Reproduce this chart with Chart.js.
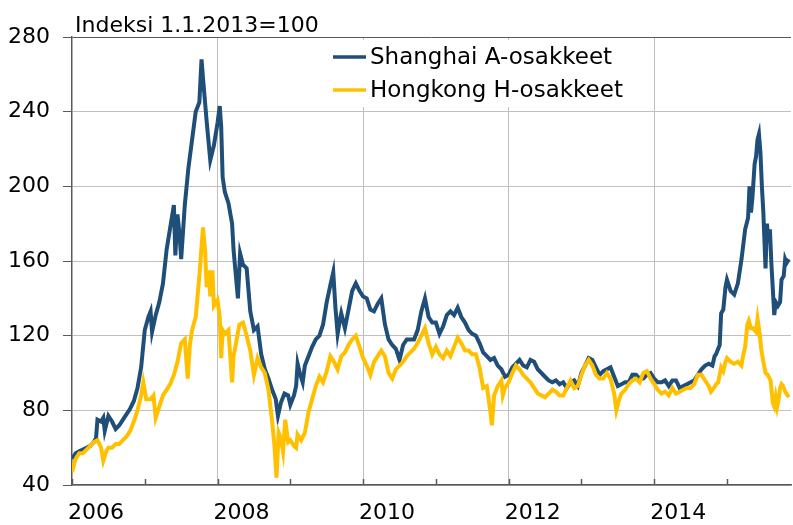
<!DOCTYPE html>
<html>
<head>
<meta charset="utf-8">
<script src="https://cdn.jsdelivr.net/npm/chart.js@4.4.1/dist/chart.umd.min.js"></script>
<style>
  body { margin: 0; background: #fff; }
</style>
</head>
<body>
<canvas id="chart" width="793" height="525"></canvas>
<script>
// Shanghai A-osakkeet (index 1.1.2013 = 100), decimal years
const shDates = [
  2006.00, 2006.05, 2006.10, 2006.15, 2006.20, 2006.25, 2006.30, 2006.33, 2006.35, 2006.40,
  2006.43, 2006.45, 2006.50, 2006.55, 2006.60, 2006.65, 2006.70, 2006.75, 2006.80, 2006.85,
  2006.90, 2006.95, 2007.00, 2007.05, 2007.08, 2007.10, 2007.15, 2007.20, 2007.25, 2007.30,
  2007.35, 2007.40, 2007.42, 2007.45, 2007.48, 2007.50, 2007.55, 2007.60, 2007.65, 2007.70,
  2007.75, 2007.78, 2007.80, 2007.85, 2007.90, 2007.95, 2008.00, 2008.03, 2008.05, 2008.07,
  2008.10, 2008.15, 2008.20, 2008.22, 2008.25, 2008.28, 2008.31, 2008.35, 2008.40, 2008.45,
  2008.50, 2008.55, 2008.60, 2008.65, 2008.70, 2008.75, 2008.80, 2008.83, 2008.87, 2008.92,
  2008.97, 2009.00, 2009.05, 2009.08, 2009.10, 2009.13, 2009.17, 2009.20, 2009.25, 2009.30,
  2009.35, 2009.40, 2009.45, 2009.50, 2009.55, 2009.59, 2009.62, 2009.65, 2009.68, 2009.70,
  2009.75, 2009.80, 2009.85, 2009.90, 2009.95, 2010.00, 2010.05, 2010.10, 2010.15, 2010.20,
  2010.25, 2010.30, 2010.35, 2010.40, 2010.45, 2010.50, 2010.55, 2010.60, 2010.65, 2010.70,
  2010.75, 2010.80, 2010.85, 2010.90, 2010.95, 2011.00, 2011.05, 2011.10, 2011.15, 2011.20,
  2011.25, 2011.30, 2011.35, 2011.40, 2011.45, 2011.50, 2011.55, 2011.60, 2011.65, 2011.70,
  2011.75, 2011.80, 2011.85, 2011.90, 2011.95, 2012.00, 2012.05, 2012.10, 2012.15, 2012.20,
  2012.25, 2012.30, 2012.35, 2012.40, 2012.45, 2012.50, 2012.55, 2012.60, 2012.65, 2012.70,
  2012.75, 2012.80, 2012.85, 2012.90, 2012.95, 2013.00, 2013.05, 2013.10, 2013.15, 2013.20,
  2013.25, 2013.30, 2013.35, 2013.40, 2013.45, 2013.50, 2013.55, 2013.60, 2013.65, 2013.70,
  2013.75, 2013.80, 2013.85, 2013.90, 2013.95, 2014.00, 2014.05, 2014.10, 2014.15, 2014.20,
  2014.25, 2014.30, 2014.35, 2014.40, 2014.45, 2014.50, 2014.55, 2014.60, 2014.65, 2014.70,
  2014.75, 2014.80, 2014.83, 2014.85, 2014.90, 2014.92, 2014.95, 2014.98, 2015.00, 2015.05,
  2015.10, 2015.15, 2015.20, 2015.25, 2015.29, 2015.31, 2015.33, 2015.35, 2015.38, 2015.40,
  2015.42, 2015.44, 2015.46, 2015.48, 2015.50, 2015.52, 2015.53, 2015.55, 2015.57, 2015.59,
  2015.61, 2015.63, 2015.65, 2015.67, 2015.70, 2015.73, 2015.75, 2015.78, 2015.80, 2015.82,
  2015.85
];
const shValues = [
  54, 57, 58, 59, 60, 61, 63, 65, 75, 74,
  76, 69, 77, 74, 70, 72, 75, 78, 81, 85,
  92, 103, 123, 130, 133, 122, 131, 138, 148, 166,
  178, 190, 163, 185, 173, 161, 190, 210, 225, 240,
  245, 268, 258, 235, 214, 222, 234, 243, 232, 205,
  197, 191, 180, 166, 153, 140, 164, 158, 156, 133,
  123, 125, 110, 102, 97, 91, 86, 77, 84, 89,
  88, 83, 88, 93, 105, 100, 95, 104, 109, 114,
  118, 120, 126, 138, 147, 154, 135, 121, 128, 132,
  124, 134, 144, 148, 144, 141, 140, 134, 133, 137,
  140, 126, 118, 115, 113, 107, 115, 118, 118, 118,
  123, 133, 140, 130, 127, 127, 121, 125, 131, 133,
  131, 135, 130, 127, 123, 121, 120, 116, 111, 109,
  107, 108, 104, 102, 98, 99, 103, 105, 107, 104,
  103, 107, 106, 102, 100, 98, 96, 95, 96, 94,
  95, 92, 95, 96, 93, 100, 104, 108, 107, 103,
  99, 101, 102, 103, 98, 93, 94, 95, 95, 99,
  99, 97, 97, 99, 100, 97, 95, 95, 96, 93,
  96, 96, 92, 93, 94, 95, 96, 99, 102, 104,
  105, 104, 109, 110, 115, 132, 134, 146, 150, 144,
  142, 148, 161, 177, 183, 200, 186, 194, 212, 216,
  225, 228, 218, 200, 186, 166, 156, 180, 170, 177,
  159, 145, 131, 138, 136, 138, 150, 152, 161, 159,
  161
];

// Hongkong H-osakkeet
const hkDates = [
  2006.00, 2006.05, 2006.10, 2006.15, 2006.20, 2006.25, 2006.30, 2006.35, 2006.40, 2006.43,
  2006.47, 2006.50, 2006.55, 2006.60, 2006.65, 2006.70, 2006.75, 2006.80, 2006.85, 2006.90,
  2006.95, 2006.98, 2007.02, 2007.08, 2007.12, 2007.15, 2007.20, 2007.25, 2007.30, 2007.35,
  2007.40, 2007.45, 2007.50, 2007.55, 2007.59, 2007.62, 2007.65, 2007.70, 2007.75, 2007.80,
  2007.83, 2007.85, 2007.88, 2007.90, 2007.93, 2007.95, 2008.00, 2008.03, 2008.05, 2008.07,
  2008.10, 2008.15, 2008.18, 2008.20, 2008.22, 2008.25, 2008.30, 2008.35, 2008.40, 2008.45,
  2008.50, 2008.55, 2008.60, 2008.65, 2008.70, 2008.75, 2008.78, 2008.81, 2008.84, 2008.87,
  2008.90, 2008.93, 2008.97, 2009.00, 2009.05, 2009.08, 2009.10, 2009.15, 2009.20, 2009.25,
  2009.30, 2009.35, 2009.40, 2009.45, 2009.50, 2009.55, 2009.60, 2009.65, 2009.70, 2009.75,
  2009.80, 2009.85, 2009.90, 2009.95, 2010.00, 2010.05, 2010.10, 2010.15, 2010.20, 2010.25,
  2010.30, 2010.35, 2010.40, 2010.45, 2010.50, 2010.55, 2010.60, 2010.65, 2010.70, 2010.75,
  2010.80, 2010.85, 2010.90, 2010.95, 2011.00, 2011.05, 2011.10, 2011.15, 2011.20, 2011.25,
  2011.30, 2011.35, 2011.40, 2011.45, 2011.50, 2011.55, 2011.60, 2011.65, 2011.70, 2011.75,
  2011.77, 2011.80, 2011.85, 2011.90, 2011.92, 2011.95, 2012.00, 2012.05, 2012.10, 2012.15,
  2012.20, 2012.25, 2012.30, 2012.35, 2012.40, 2012.45, 2012.50, 2012.55, 2012.60, 2012.65,
  2012.70, 2012.75, 2012.80, 2012.85, 2012.90, 2012.95, 2013.00, 2013.05, 2013.10, 2013.15,
  2013.20, 2013.25, 2013.30, 2013.35, 2013.40, 2013.45, 2013.48, 2013.52, 2013.55, 2013.60,
  2013.65, 2013.70, 2013.75, 2013.80, 2013.85, 2013.90, 2013.95, 2014.00, 2014.05, 2014.10,
  2014.15, 2014.20, 2014.25, 2014.30, 2014.35, 2014.40, 2014.45, 2014.50, 2014.55, 2014.60,
  2014.65, 2014.70, 2014.75, 2014.78, 2014.82, 2014.85, 2014.88, 2014.92, 2014.95, 2014.98,
  2015.00, 2015.05, 2015.10, 2015.15, 2015.20, 2015.22, 2015.25, 2015.28, 2015.30, 2015.33,
  2015.36, 2015.40, 2015.42, 2015.45, 2015.47, 2015.50, 2015.53, 2015.56, 2015.60, 2015.63,
  2015.65, 2015.67, 2015.69, 2015.71, 2015.73, 2015.75, 2015.77, 2015.80, 2015.85
];
const hkValues = [
  47, 54, 57, 57, 59, 61, 63, 64, 60, 53,
  58, 60, 60, 62, 62, 64, 66, 69, 74, 80,
  88, 95, 86, 86, 88, 76, 82, 88, 91, 94,
  99, 106, 116, 118, 97, 115, 123, 130, 152, 178,
  165, 146, 155, 141, 155, 136, 139, 130, 108, 123,
  121, 123, 106, 95, 109, 115, 126, 127, 120, 112,
  99, 108, 103, 100, 91, 74, 62, 44, 68, 65,
  58, 75, 63, 64, 61, 60, 67, 64, 68, 79,
  86, 93, 98, 95, 101, 109, 106, 102, 109, 111,
  115, 118, 120, 114, 108, 104, 99, 106, 109, 112,
  109, 100, 97, 102, 104, 106, 109, 111, 113, 116,
  120, 124, 116, 110, 114, 110, 108, 112, 109, 114,
  119, 116, 112, 112, 110, 110, 103, 92, 93, 79,
  72, 88, 93, 96, 88, 92, 95, 100, 104, 102,
  99, 97, 95, 92, 89, 88, 87, 89, 91, 90,
  88, 88, 92, 96, 92, 93, 99, 104, 107, 104,
  99, 97, 97, 100, 97, 89, 80, 86, 89, 91,
  94, 96, 97, 95, 100, 101, 97, 94, 91, 89,
  90, 88, 92, 89, 90, 91, 92, 92, 94, 99,
  99, 96, 93, 90, 92, 94, 95, 103, 101, 106,
  108, 106, 105, 106, 104, 109, 114, 126, 128, 124,
  124, 122, 129, 121, 113, 106, 100, 99, 96, 84,
  82, 87, 82, 86, 92, 94, 93, 90, 87
];

const yearTicks = [2006, 2007, 2008, 2009, 2010, 2011, 2012, 2013, 2014, 2015];

const axisColor = '#595959';
const gridColor = '#bfbfbf';

Chart.defaults.font.family = "'DejaVu Sans', sans-serif";
Chart.defaults.color = '#000';

// title, legend box and inward year tick marks
const decor = {
  id: 'decor',
  afterDatasetsDraw(chart) {
    const c = chart.ctx;
    const area = chart.chartArea;
    const xs = chart.scales.x;
    c.save();

    c.strokeStyle = axisColor;
    c.lineWidth = 1.5;
    yearTicks.forEach(function (yr) {
      const px = Math.round(xs.getPixelForValue(yr)) + 0.5;
      c.beginPath();
      c.moveTo(px, area.bottom);
      c.lineTo(px, area.bottom - 6);
      c.stroke();
    });

    c.fillStyle = '#fff';
    c.fillRect(325, 40, 305, 67);

    c.font = "23px 'DejaVu Sans'";
    c.textBaseline = 'alphabetic';
    chart.data.datasets.forEach(function (ds, i) {
      const y = 57 + i * 33;
      c.strokeStyle = ds.borderColor;
      c.lineWidth = 3.5;
      c.beginPath();
      c.moveTo(333, y);
      c.lineTo(366, y);
      c.stroke();
      c.fillStyle = '#000';
      c.fillText(ds.label, 370, y + 7);
    });

    c.font = "22px 'DejaVu Sans'";
    c.fillText('Indeksi 1.1.2013=100', 75, 32);
    c.restore();
  }
};

new Chart(document.getElementById('chart'), {
  type: 'line',
  data: {
    datasets: [
      {
        label: 'Shanghai A-osakkeet',
        data: shDates.map((d, i) => ({ x: d, y: shValues[i] })),
        borderColor: '#1F4E79',
        borderWidth: 4,
        pointRadius: 0,
        tension: 0,
        order: 1
      },
      {
        label: 'Hongkong H-osakkeet',
        data: hkDates.map((d, i) => ({ x: d, y: hkValues[i] })),
        borderColor: '#FFC000',
        borderWidth: 4,
        pointRadius: 0,
        tension: 0,
        order: 0
      }
    ]
  },
  options: {
    responsive: false,
    animation: false,
    devicePixelRatio: 1,
    layout: { padding: { top: 37, right: 2, left: 0, bottom: 0 } },
    plugins: {
      legend: { display: false },
      tooltip: { enabled: false }
    },
    scales: {
      x: {
        type: 'linear',
        min: 2006,
        max: 2015.88,
        afterFit: s => { s.height = 40; },
        grid: {
          color: c => {
            const v = Math.round(c.tick.value);
            return (v % 2 === 0 && v !== 2006) ? gridColor : 'rgba(0,0,0,0)';
          },
          drawTicks: false
        },
        border: { color: axisColor, width: 1.5 },
        ticks: {
          stepSize: 1,
          includeBounds: false,
          autoSkip: false,
          maxRotation: 0,
          labelOffset: 24,
          padding: 15,
          font: { size: 22 },
          callback: v => (Math.round(v) % 2 === 0 ? String(Math.round(v)) : '')
        }
      },
      y: {
        min: 40,
        max: 280,
        afterFit: s => { s.width = 72; },
        grid: {
          color: c => (c.tick.value === 280 ? axisColor : gridColor),
          tickColor: axisColor,
          tickLength: 9
        },
        border: { color: axisColor, width: 1.5 },
        ticks: {
          stepSize: 40,
          padding: 13,
          font: { size: 22 }
        }
      }
    }
  },
  plugins: [decor]
});
</script>
</body>
</html>
